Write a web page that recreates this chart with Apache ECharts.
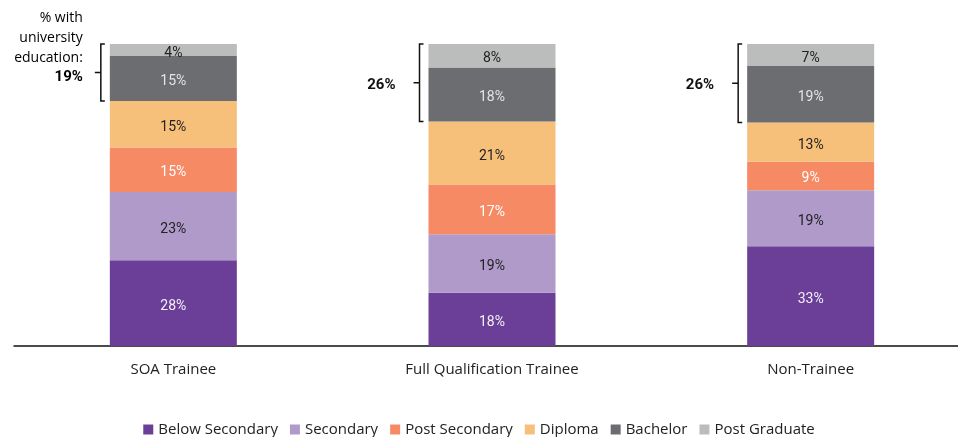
<!DOCTYPE html>
<html>
<head>
<meta charset="utf-8">
<script src="https://cdn.jsdelivr.net/npm/echarts@6/dist/echarts.min.js"></script>
<style>
  html, body { margin: 0; padding: 0; background: #fff; }
  #chart { width: 958px; height: 437px; }
</style>
</head>
<body>
<div id="chart"></div>
<script>
// categories
var categories = ['SOA Trainee', 'Full Qualification Trainee', 'Non-Trainee'];

// share of each education level (%)
var belowSecondary = [28.4, 17.6, 33.0];
var secondary      = [22.6, 19.4, 18.6];
var postSecondary  = [14.7, 16.5, 9.4];
var diploma        = [15.4, 20.8, 13.0];
var bachelor       = [14.9, 17.9, 18.7];
var postGraduate   = [4.0, 7.8, 7.3];

// text shown before the bracket total
var bracketPrefix = ['% with\nuniversity\neducation:', '', ''];

var seriesNames  = ['Below Secondary', 'Secondary', 'Post Secondary', 'Diploma', 'Bachelor', 'Post Graduate'];
var seriesValues = [belowSecondary, secondary, postSecondary, diploma, bachelor, postGraduate];
var colors       = ['#6b3f98', '#b09ac9', '#f68a65', '#f7c07a', '#6b6d71', '#bbbcbc'];
var labelColors  = ['#f4f0f8', '#222222', '#ffffff', '#222222', '#e4e4e4', '#222222'];

var FONT = 'Roboto, "DejaVu Sans", sans-serif';
var FONT2 = '"Open Sans", Roboto, sans-serif';
var barWidth = 127;

var myChart = echarts.init(document.getElementById('chart'));

var series = seriesNames.map(function (name, i) {
    return {
        name: name,
        type: 'bar',
        stack: 'total',
        barWidth: barWidth,
        itemStyle: { color: colors[i] },
        label: {
            show: true,
            position: 'inside',
            offset: [0, 3],
            color: labelColors[i],
            fontFamily: FONT,
            fontSize: 14,
            formatter: function (p) { return Math.round(p.value) + '%'; }
        },
        data: seriesValues[i]
    };
});

// bracket data: [category, bottom of Bachelor, top of bar, university share]
var bracketData = categories.map(function (c, k) {
    var low = belowSecondary[k] + secondary[k] + postSecondary[k] + diploma[k];
    var uni = bachelor[k] + postGraduate[k];
    return [k, low, low + uni, Math.round(uni)];
});

series.push({
    type: 'custom',
    name: 'bracket',
    silent: true,
    z: 5,
    renderItem: function (params, api) {
        var k = api.value(0);
        var top = api.coord([k, api.value(2)]);
        var bot = api.coord([k, api.value(1)]);
        var x = top[0] - barWidth / 2 - 9;
        var yt = top[1], yb = bot[1], ym = (yt + yb) / 2;
        var prefix = bracketPrefix[k];
        var txt, textStyle;
        if (prefix) {
            txt = prefix.split('\n').map(function (s) { return '{n|' + s + '}'; }).join('\n') +
                  '\n{b|' + api.value(3) + '%}';
            textStyle = {
                x: x - 18, y: ym + 15, text: txt, align: 'right', verticalAlign: 'bottom',
                rich: {
                    n: { fontFamily: FONT2, fontSize: 14, color: '#333', lineHeight: 20, align: 'right' },
                    b: { fontFamily: FONT, fontSize: 15, fontWeight: 'bold', color: '#111', lineHeight: 20, align: 'right' }
                }
            };
        } else {
            textStyle = {
                x: x - 24, y: ym + 2, text: api.value(3) + '%', align: 'right', verticalAlign: 'middle',
                fontFamily: FONT, fontSize: 15, fontWeight: 'bold', fill: '#111'
            };
        }
        return {
            type: 'group',
            children: [{
                type: 'path',
                shape: {
                    pathData: 'M' + (x + 4) + ',' + yt + ' L' + x + ',' + yt + ' L' + x + ',' + yb +
                              ' L' + (x + 4) + ',' + yb + ' M' + x + ',' + ym + ' L' + (x - 6) + ',' + ym
                },
                style: { stroke: '#111', lineWidth: 1.5, fill: null }
            }, {
                type: 'text',
                style: textStyle
            }]
        };
    },
    data: bracketData
});

var option = {
    animation: false,
    legend: {
        data: seriesNames,
        top: 417,
        left: 'center',
        icon: 'rect',
        itemWidth: 10,
        itemHeight: 10,
        itemGap: 12,
        textStyle: { fontFamily: FONT2, fontSize: 15, color: '#222' }
    },
    grid: { left: 14, top: 44, right: -12, height: 302, containLabel: false, outerBoundsMode: 'none' },
    xAxis: {
        type: 'category',
        data: categories,
        axisLine: { lineStyle: { color: '#111', width: 1.5 } },
        axisTick: { show: false },
        axisLabel: { margin: 16, fontFamily: FONT2, fontSize: 15, color: '#222' }
    },
    yAxis: {
        type: 'value',
        min: 0,
        max: 100,
        show: false
    },
    series: series
};
myChart.setOption(option);
</script>
</body>
</html>
